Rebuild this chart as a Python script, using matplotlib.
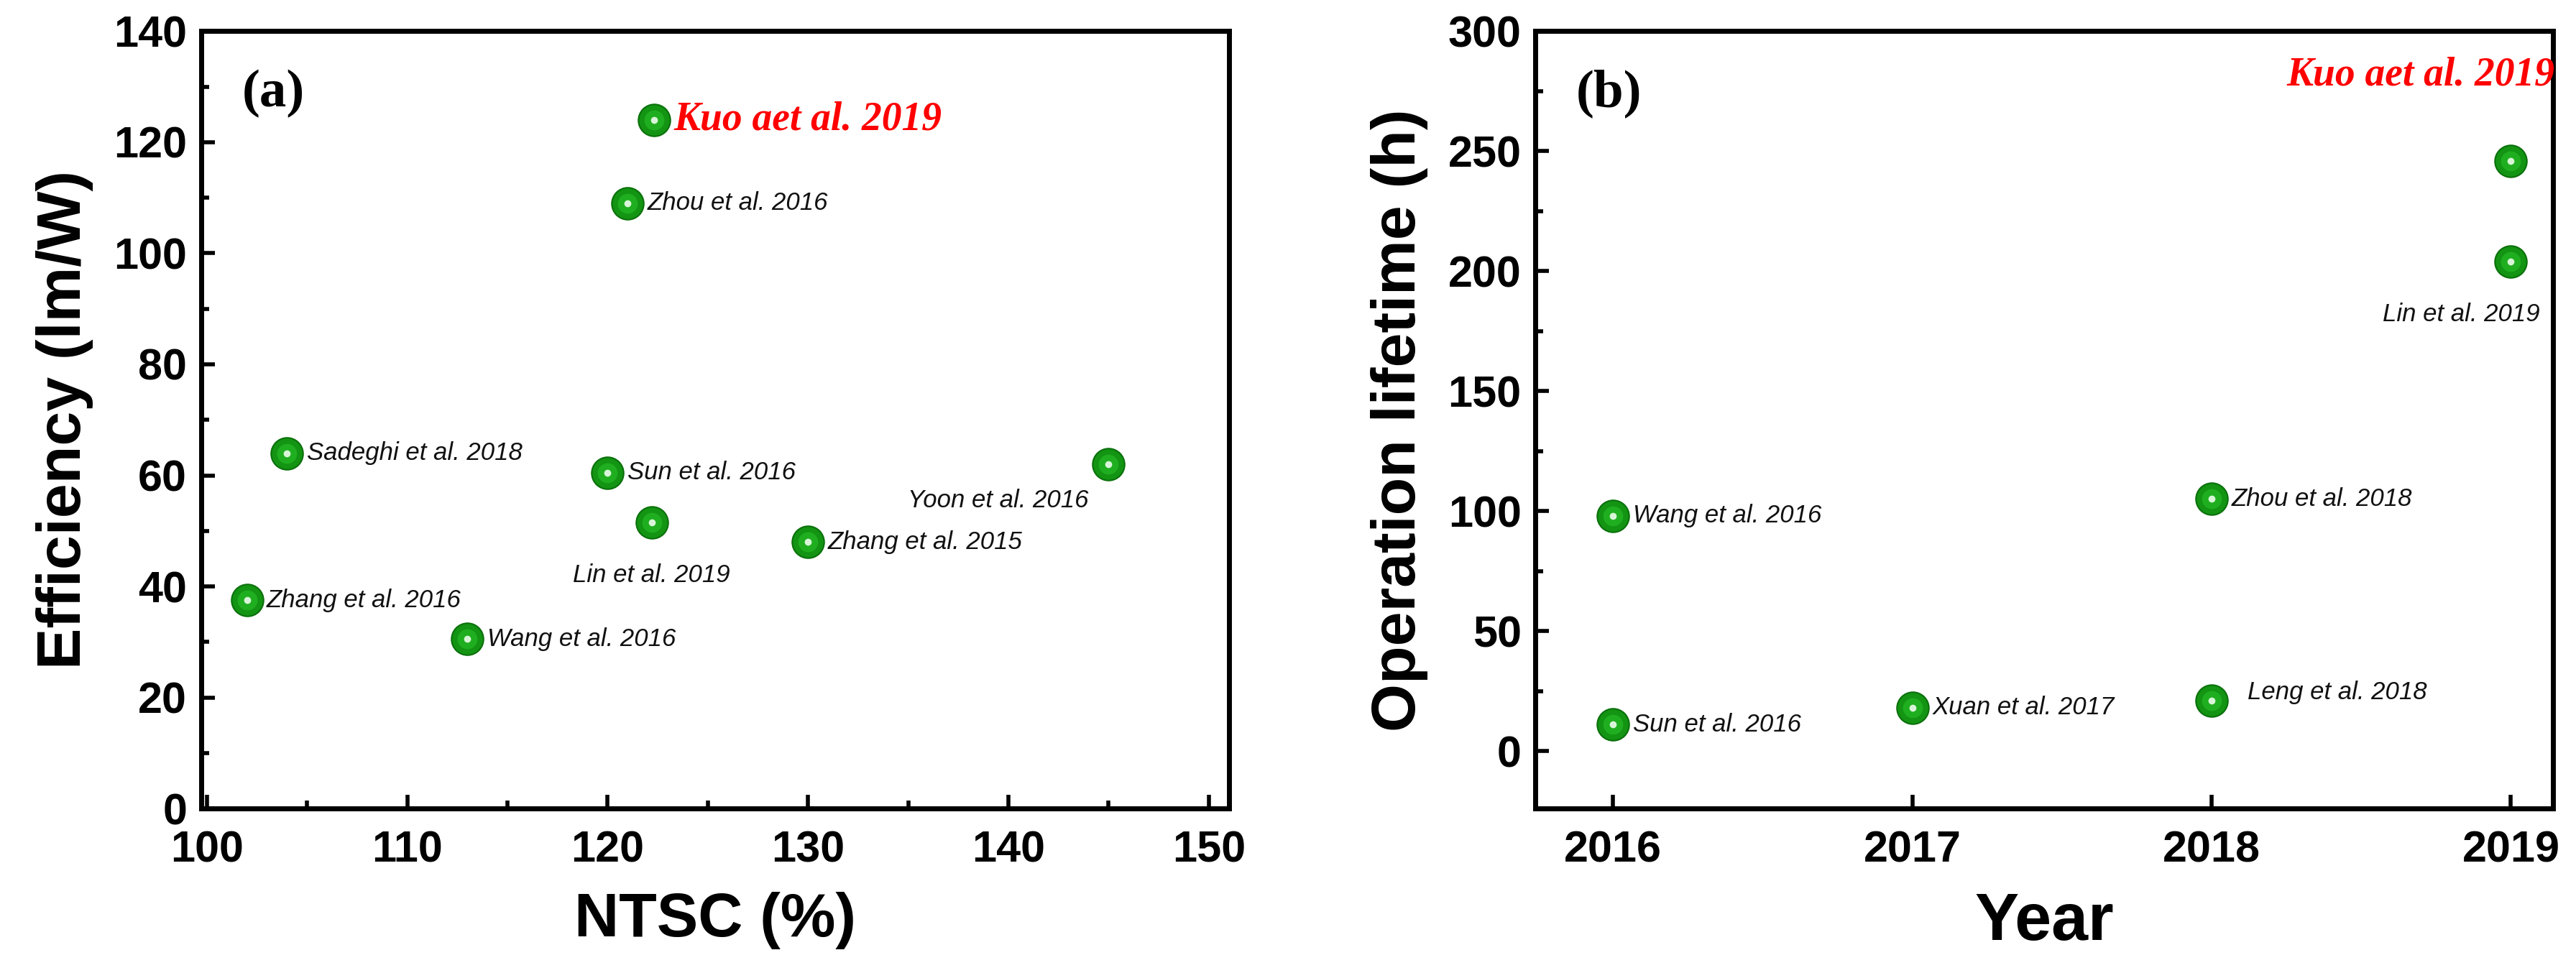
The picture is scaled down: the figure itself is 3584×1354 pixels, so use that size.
import matplotlib
matplotlib.use('Agg')
import matplotlib.pyplot as plt
from matplotlib.ticker import MultipleLocator

# --- data ---
ntsc = [122.3, 121, 104, 120, 145, 122.2, 130, 102, 113]
eff = [124, 109, 64, 60.5, 62, 51.5, 48, 37.5, 30.5]
eff_names = ['Kuo aet al. 2019', 'Zhou et al. 2016', 'Sadeghi et al. 2018', 'Sun et al. 2016',
             'Yoon et al. 2016', 'Lin et al. 2019', 'Zhang et al. 2015', 'Zhang et al. 2016',
             'Wang et al. 2016']
eff_offsets = [(12, 0, 'left'), (12, 0, 'left'), (12, 0, 'left'), (12, 0, 'left'),
               (-12, -22, 'right'), (0, -32, 'center'), (12, 0, 'left'), (12, 0, 'left'),
               (12, 0, 'left')]

years = [2016, 2016, 2017, 2018, 2018, 2019, 2019]
life = [98, 11, 18, 105, 21, 204, 246]
life_names = ['Wang et al. 2016', 'Sun et al. 2016', 'Xuan et al. 2017', 'Zhou et al. 2018',
              'Leng et al. 2018', 'Lin et al. 2019', 'Kuo aet al. 2019']
life_offsets = [(12, 0, 'left'), (12, 0, 'left'), (12, 0, 'left'), (12, 0, 'left'),
                (22, 5, 'left'), (-30, -32, 'center'), (-55, 52, 'center')]

label_font = ['Liberation Sans Narrow', 'Liberation Sans', 'DejaVu Sans']
plt.rcParams['font.family'] = ['Liberation Sans', 'DejaVu Sans']

fig = plt.figure(figsize=(35.84, 13.54), dpi=100)
ax_a = fig.add_axes([0.078, 0.169, 0.399, 0.799])
ax_b = fig.add_axes([0.596, 0.169, 0.395, 0.799])


def draw_points(ax, xs, ys):
    ax.plot(xs, ys, 'o', ms=32, color='#139413', mec='#0b700b', mew=1.5, zorder=3)
    ax.plot(xs, ys, 'o', ms=20, color='#1fae1f', mec='none', zorder=4)
    ax.plot(xs, ys, 'o', ms=7, color='#d8f5d8', mec='none', zorder=5)


def annotate(ax, xs, ys, names, offsets):
    for x, y, name, (dx, dy, ha) in zip(xs, ys, names, offsets):
        red = name.startswith('Kuo')
        ax.annotate(name, (x, y), xytext=(dx * 1.65, dy * 1.65), textcoords='offset points',
                    ha=ha, va='center', style='italic',
                    fontsize=40 if red else 25,
                    fontweight='bold' if red else 'normal',
                    color='red' if red else '#111111',
                    family=['Liberation Serif'] if red else label_font)


def style(ax):
    for s in ax.spines.values():
        s.set_linewidth(5)
    ax.tick_params(which='both', direction='in', top=False, right=False, labelsize=44, width=4)
    ax.tick_params(which='major', length=14, pad=14)
    ax.tick_params(axis='x', which='major', pad=22)
    ax.tick_params(which='minor', length=8)
    for t in ax.get_xticklabels() + ax.get_yticklabels():
        t.set_fontweight('bold')
        t.set_family(label_font)


draw_points(ax_a, ntsc, eff)
annotate(ax_a, ntsc, eff, eff_names, eff_offsets)
ax_a.set_xlim(99.7, 151)
ax_a.set_ylim(0, 140)
ax_a.xaxis.set_major_locator(MultipleLocator(10))
ax_a.xaxis.set_minor_locator(MultipleLocator(5))
ax_a.yaxis.set_major_locator(MultipleLocator(20))
ax_a.yaxis.set_minor_locator(MultipleLocator(10))
ax_a.set_xlabel('NTSC (%)', fontsize=62, fontweight='bold', labelpad=20)
ax_a.set_ylabel('Efficiency (lm/W)', fontsize=62, fontweight='bold', labelpad=20)
ax_a.text(0.04, 0.92, '(a)', transform=ax_a.transAxes, fontsize=54, fontweight='bold',
          family=['Liberation Serif'], va='center')
style(ax_a)

draw_points(ax_b, years, life)
annotate(ax_b, years, life, life_names, life_offsets)
ax_b.set_xlim(2015.74, 2019.14)
ax_b.set_ylim(-24, 300)
ax_b.set_xticks([2016, 2017, 2018, 2019])
ax_b.yaxis.set_major_locator(MultipleLocator(50))
ax_b.yaxis.set_minor_locator(MultipleLocator(25))
ax_b.set_xlabel('Year', fontsize=66, fontweight='bold', labelpad=20)
ax_b.set_ylabel('Operation lifetime (h)', fontsize=62, fontweight='bold', labelpad=20)
ax_b.text(0.04, 0.92, '(b)', transform=ax_b.transAxes, fontsize=54, fontweight='bold',
          family=['Liberation Serif'], va='center')
style(ax_b)

fig.savefig('out.png', dpi=100)
